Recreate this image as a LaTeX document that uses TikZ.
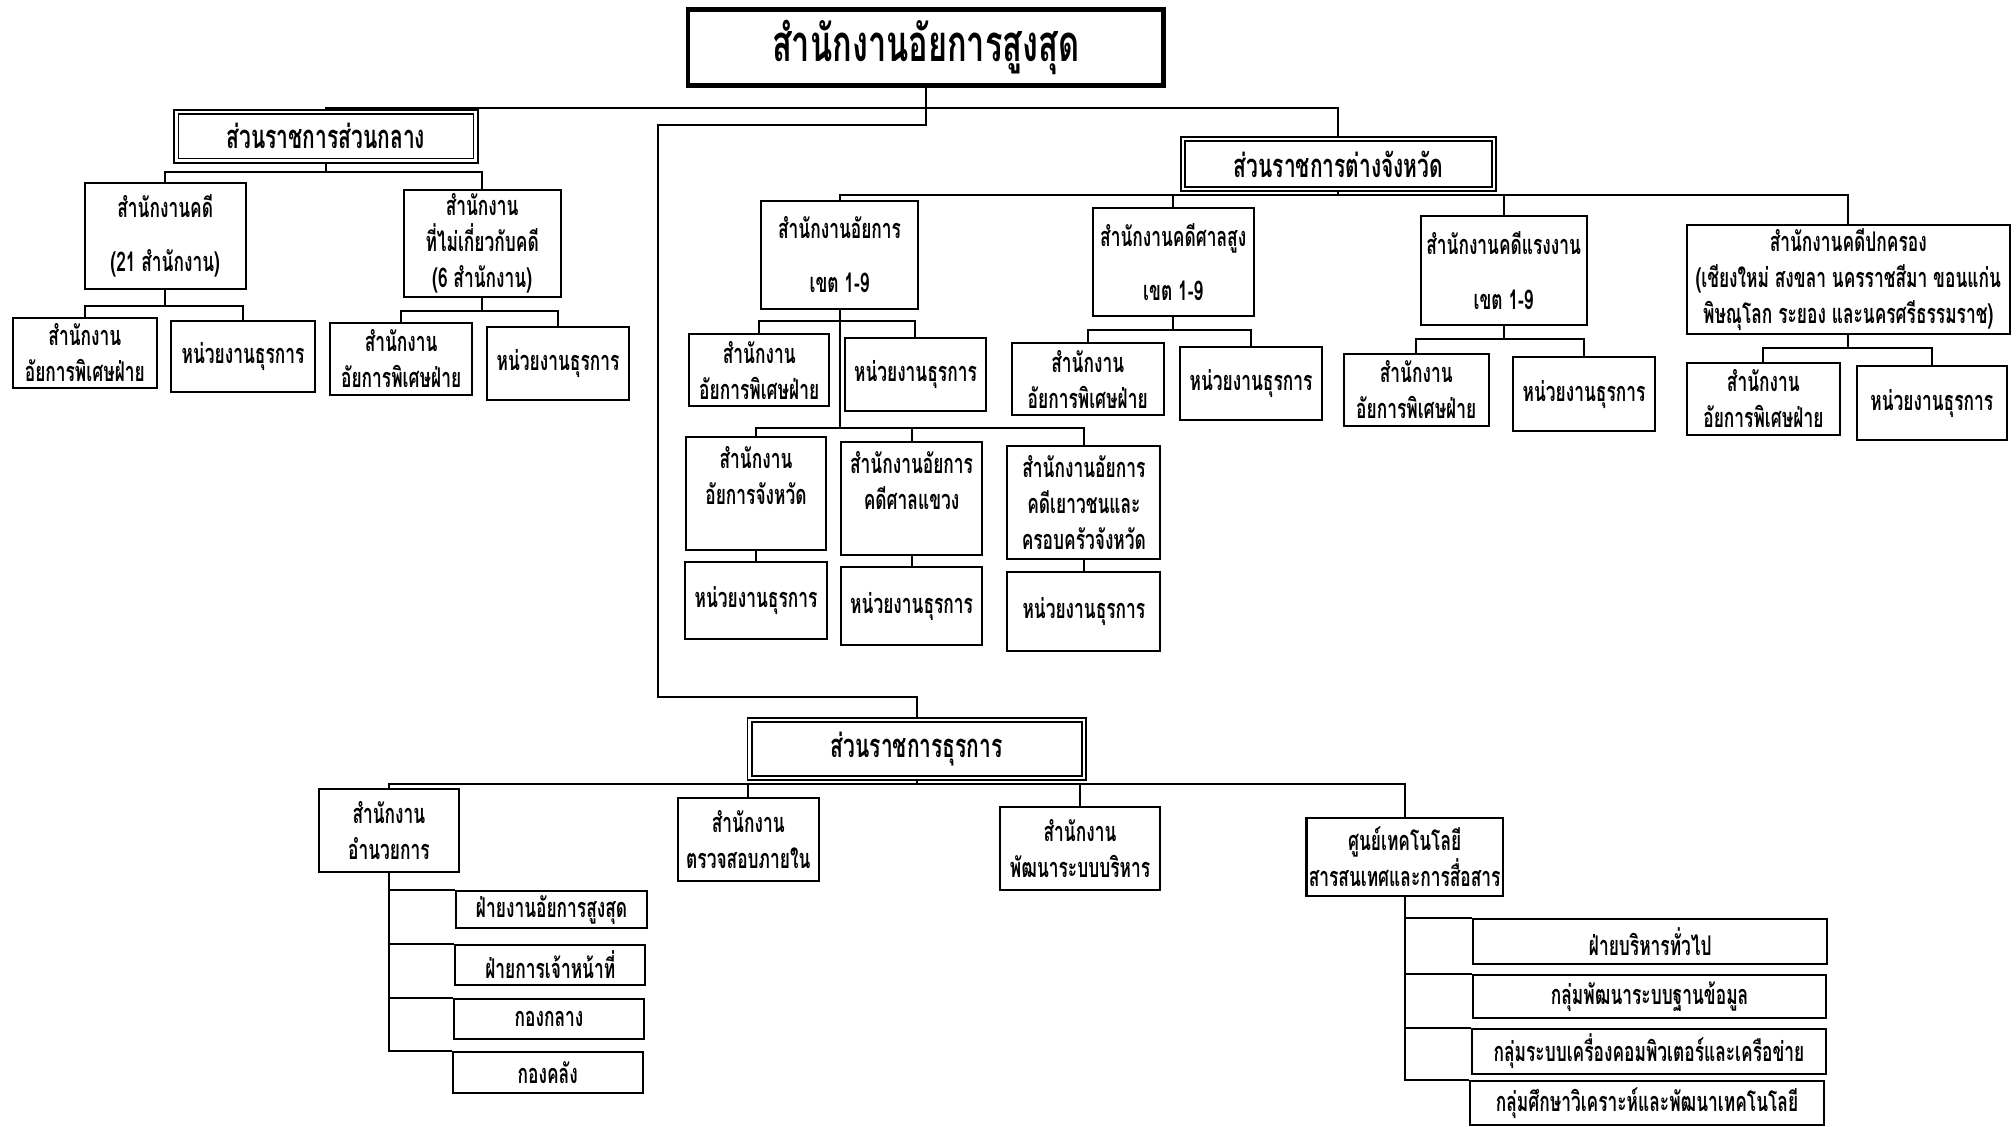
\documentclass[tikz,border=0pt]{standalone}
\usepackage{fontspec}
\setmainfont[Script=Thai, FakeStretch=0.64]{Loma}
\newcommand\fsN{\fontsize{12}{16}\selectfont\bfseries}
\newcommand\fsH{\fontsize{14.5}{17}\selectfont\bfseries}
\newcommand\fsT{\fontsize{22.5}{26}\selectfont\bfseries}
\usetikzlibrary{calc}
\tikzset{
  box/.style={draw, line width=0.9pt, align=center, inner sep=1pt, font=\fsN},
  wh/.style 2 args={minimum width=#1*0.02cm, minimum height=#2*0.02cm},
  conn/.style={line width=0.9pt},
  topbox/.style={draw, line width=2pt, align=center, inner sep=1pt, font=\fsT},
  dbl/.style={draw, double, double distance=1.2pt, line width=0.7pt, align=center, inner sep=1pt, font=\fsH},
}
\begin{document}
\begin{tikzpicture}[x=0.02cm, y=-0.02cm]
\fill[white] (0,0) rectangle (1568,876);
\useasboundingbox (0,0) rectangle (1568,876);

% top levels
\node[topbox, wh={370}{59}] (top) at (720,37) {สำนักงานอัยการสูงสุด};
\node[dbl, wh={233}{38}] (central) at (253.5,106) {ส่วนราชการส่วนกลาง};
\node[dbl, wh={242}{39}] (prov) at (1041,127.5) {ส่วนราชการต่างจังหวัด};
\node[dbl, wh={260}{45}] (admin) at (713,582.5) {ส่วนราชการธุรการ};

% central branch
\node[box, wh={125}{83}] (case) at (128.5,183.5) {สำนักงานคดี\\[8pt](21 สำนักงาน)};
\node[box, wh={122}{83}] (noncase) at (375,189.5) {สำนักงาน\\ที่ไม่เกี่ยวกับคดี\\(6 สำนักงาน)};
\node[box, wh={112}{55}] (caseA) at (66,274.5) {สำนักงาน\\อัยการพิเศษฝ่าย};
\node[box, wh={112}{55}] (caseB) at (189,277.5) {หน่วยงานธุรการ};
\node[box, wh={110}{56}] (noncaseA) at (312,279) {สำนักงาน\\อัยการพิเศษฝ่าย};
\node[box, wh={110}{57}] (noncaseB) at (434,282.5) {หน่วยงานธุรการ};

% provincial branch
\node[box, wh={122}{84}] (reg) at (653,198) {สำนักงานอัยการ\\[8pt]เขต 1-9};
\node[box, wh={125}{84}] (high) at (912.5,204) {สำนักงานคดีศาลสูง\\[8pt]เขต 1-9};
\node[box, wh={129}{85}] (labour) at (1169.5,210.5) {สำนักงานคดีแรงงาน\\[8pt]เขต 1-9};
\node[box, wh={251}{85}] (adm) at (1437.5,217.5) {สำนักงานคดีปกครอง\\(เชียงใหม่ สงขลา นครราชสีมา ขอนแก่น\\พิษณุโลก ระยอง และนครศรีธรรมราช)};

\node[box, wh={109}{56}] (regA) at (590.5,288) {สำนักงาน\\อัยการพิเศษฝ่าย};
\node[box, wh={110}{57}] (regB) at (712,291.5) {หน่วยงานธุรการ};
\node[box, wh={109}{88}] (provOff) at (588,384) {สำนักงาน\\อัยการจังหวัด\\~};
\node[box, wh={110}{88}] (muni) at (709,388) {สำนักงานอัยการ\\คดีศาลแขวง\\~};
\node[box, wh={119}{88}] (juv) at (843,391) {สำนักงานอัยการ\\คดีเยาวชนและ\\ครอบครัวจังหวัด};
\node[box, wh={110}{60}] (provOffB) at (588,467) {หน่วยงานธุรการ};
\node[box, wh={110}{61}] (muniB) at (709,471.5) {หน่วยงานธุรการ};
\node[box, wh={119}{61}] (juvB) at (843,475.5) {หน่วยงานธุรการ};

\node[box, wh={118}{56}] (highA) at (846,295) {สำนักงาน\\อัยการพิเศษฝ่าย};
\node[box, wh={110}{57}] (highB) at (973,298.5) {หน่วยงานธุรการ};
\node[box, wh={113}{56}] (labourA) at (1101.5,303) {สำนักงาน\\อัยการพิเศษฝ่าย};
\node[box, wh={110}{57}] (labourB) at (1232,306.5) {หน่วยงานธุรการ};
\node[box, wh={119}{56}] (admA) at (1371.5,310) {สำนักงาน\\อัยการพิเศษฝ่าย};
\node[box, wh={117}{57}] (admB) at (1502.5,313.5) {หน่วยงานธุรการ};

% administrative branch
\node[box, wh={109}{64}] (dir) at (302.5,646) {สำนักงาน\\อำนวยการ};
\node[box, wh={110}{64}] (audit) at (582,653) {สำนักงาน\\ตรวจสอบภายใน};
\node[box, wh={124}{64}] (devel) at (840,660) {สำนักงาน\\พัฒนาระบบบริหาร};
\node[box, wh={149}{61}] (ict) at (1092.5,666.5) {ศูนย์เทคโนโลยี\\สารสนเทศและการสื่อสาร};

\node[box, wh={148}{29}] (dirA) at (429,707.5) {ฝ่ายงานอัยการสูงสุด};
\node[box, wh={148}{31}] (dirB) at (428,750.5) {ฝ่ายการเจ้าหน้าที่};
\node[box, wh={148}{31}] (dirC) at (427,792.5) {กองกลาง};
\node[box, wh={148}{32}] (dirD) at (426,834) {กองคลัง};

\node[box, wh={275}{35}] (ictA) at (1283.5,732.5) {ฝ่ายบริหารทั่วไป};
\node[box, wh={275}{34}] (ictB) at (1283,775) {กลุ่มพัฒนาระบบฐานข้อมูล};
\node[box, wh={275}{35}] (ictC) at (1282.5,817.5) {กลุ่มระบบเครื่องคอมพิวเตอร์และเครือข่าย};
\node[box, wh={275}{34}] (ictD) at (1281,858) {กลุ่มศึกษาวิเคราะห์และพัฒนาเทคโนโลยี};

% bus coordinates
\coordinate (bMain) at (0,84);
\coordinate (L1) at (512,97);
\coordinate (L2) at (512,542);
\coordinate (bCentral) at (0,134);
\coordinate (bCase) at (0,238);
\coordinate (bNon) at (0,242);
\coordinate (bProv) at (0,152);
\coordinate (bReg) at (0,250);
\coordinate (bReg2) at (0,333);
\coordinate (bHigh) at (0,257);
\coordinate (bLab) at (0,264);
\coordinate (bAdm) at (0,271);
\coordinate (bAdmin) at (0,610);

% connectors
\draw[conn] (central.north) |- (top.south |- bMain) -| (prov.north);
\draw[conn] (top.south) |- (L1) |- (L2) -| (admin.north);

\draw[conn] (central.south) -- (central.south |- bCentral);
\draw[conn] (case.north) |- (noncase.north |- bCentral) -- (noncase.north);
\draw[conn] (case.south) -- (case.south |- bCase);
\draw[conn] (caseA.north) |- (caseB.north |- bCase) -- (caseB.north);
\draw[conn] (noncase.south) -- (noncase.south |- bNon);
\draw[conn] (noncaseA.north) |- (noncaseB.north |- bNon) -- (noncaseB.north);

\draw[conn] (prov.south) -- (prov.south |- bProv);
\draw[conn] (reg.north) |- (adm.north |- bProv) -- (adm.north);
\draw[conn] (high.north) -- (high.north |- bProv);
\draw[conn] (labour.north) -- (labour.north |- bProv);

\draw[conn] (reg.south) -- (reg.south |- bReg2);
\draw[conn] (regA.north) |- (regB.north |- bReg) -- (regB.north);
\draw[conn] (provOff.north) |- (juv.north |- bReg2) -- (juv.north);
\draw[conn] (muni.north) -- (muni.north |- bReg2);
\draw[conn] (provOff.south) -- (provOffB.north);
\draw[conn] (muni.south) -- (muniB.north);
\draw[conn] (juv.south) -- (juvB.north);

\draw[conn] (high.south) -- (high.south |- bHigh);
\draw[conn] (highA.north) |- (highB.north |- bHigh) -- (highB.north);
\draw[conn] (labour.south) -- (labour.south |- bLab);
\draw[conn] (labourA.north) |- (labourB.north |- bLab) -- (labourB.north);
\draw[conn] (adm.south) -- (adm.south |- bAdm);
\draw[conn] (admA.north) |- (admB.north |- bAdm) -- (admB.north);

\draw[conn] (admin.south) -- (admin.south |- bAdmin);
\draw[conn] (dir.north) |- (ict.north |- bAdmin) -- (ict.north);
\draw[conn] (audit.north) -- (audit.north |- bAdmin);
\draw[conn] (devel.north) -- (devel.north |- bAdmin);

\draw[conn] (dir.south) |- (dirD.north west);
\draw[conn] (dir.south |- dirA.north) -- (dirA.north west);
\draw[conn] (dir.south |- dirB.north) -- (dirB.north west);
\draw[conn] (dir.south |- dirC.north) -- (dirC.north west);

\draw[conn] (ict.south) |- (ictD.north west);
\draw[conn] (ict.south |- ictA.north) -- (ictA.north west);
\draw[conn] (ict.south |- ictB.north) -- (ictB.north west);
\draw[conn] (ict.south |- ictC.north) -- (ictC.north west);
\end{tikzpicture}
\end{document}
